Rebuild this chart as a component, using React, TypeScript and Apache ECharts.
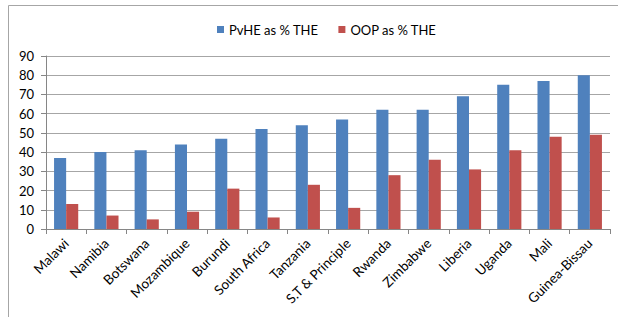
import React, { useEffect, useRef } from "react";
import * as echarts from "echarts";

const categories = [
  "Malawi",
  "Namibia",
  "Botswana",
  "Mozambique",
  "Burundi",
  "South Africa",
  "Tanzania",
  "S.T & Principle",
  "Rwanda",
  "Zimbabwe",
  "Liberia",
  "Uganda",
  "Mali",
  "Guinea-Bissau",
];
const pvheValues = [37, 40, 41, 44, 47, 52, 54, 57, 62, 62, 69, 75, 77, 80];
const oopValues = [13, 7, 5, 9, 21, 6, 23, 11, 28, 36, 31, 41, 48, 49];
const seriesNames = ["PvHE as % THE", "OOP as % THE"];

export default function App() {
  const ref = useRef<HTMLDivElement>(null);
  useEffect(() => {
    if (!ref.current) return;
    const chart = echarts.init(ref.current, null, { renderer: "svg" });
    const font = "Lato, 'Open Sans', sans-serif";
    chart.setOption({
      animation: false,
      backgroundColor: "#ffffff",
      textStyle: { fontFamily: font },
      graphic: [
        {
          type: "rect",
          shape: { x: 8.5, y: 5.5, width: 700, height: 400 },
          style: { fill: "none", stroke: "#a6a6a6", lineWidth: 1 },
          silent: true,
        },
      ],
      legend: {
        data: seriesNames,
        top: 18,
        left: 212,
        itemWidth: 7,
        itemHeight: 7,
        itemGap: 20,
        icon: "rect",
        textStyle: { fontFamily: font, fontSize: 13, color: "#000" },
      },
      grid: { left: 46, right: 8, top: 56, bottom: 88, containLabel: false },
      xAxis: {
        type: "category",
        data: categories,
        axisLine: { lineStyle: { color: "#868686" } },
        axisTick: { show: true, length: 5, lineStyle: { color: "#868686" } },
        axisLabel: {
          rotate: 45,
          interval: 0,
          margin: 12,
          fontFamily: font,
          fontSize: 13.5,
          color: "#000",
        },
      },
      yAxis: {
        type: "value",
        min: 0,
        max: 90,
        interval: 10,
        axisLine: { show: true, lineStyle: { color: "#868686" } },
        axisTick: { show: true, length: 5, lineStyle: { color: "#868686" } },
        splitLine: { lineStyle: { color: "#a6a6a6" } },
        axisLabel: { fontFamily: font, fontSize: 13, color: "#000", margin: 12 },
      },
      series: [
        {
          name: seriesNames[0],
          type: "bar",
          data: pvheValues,
          itemStyle: { color: "#4F81BD" },
          barGap: "0%",
          barCategoryGap: "40%",
        },
        {
          name: seriesNames[1],
          type: "bar",
          data: oopValues,
          itemStyle: { color: "#C0504D" },
        },
      ],
    });
    return () => chart.dispose();
  }, []);
  return (
    <div
      ref={ref}
      style={{ position: "fixed", left: 0, top: 0, width: 618, height: 317 }}
    />
  );
}
